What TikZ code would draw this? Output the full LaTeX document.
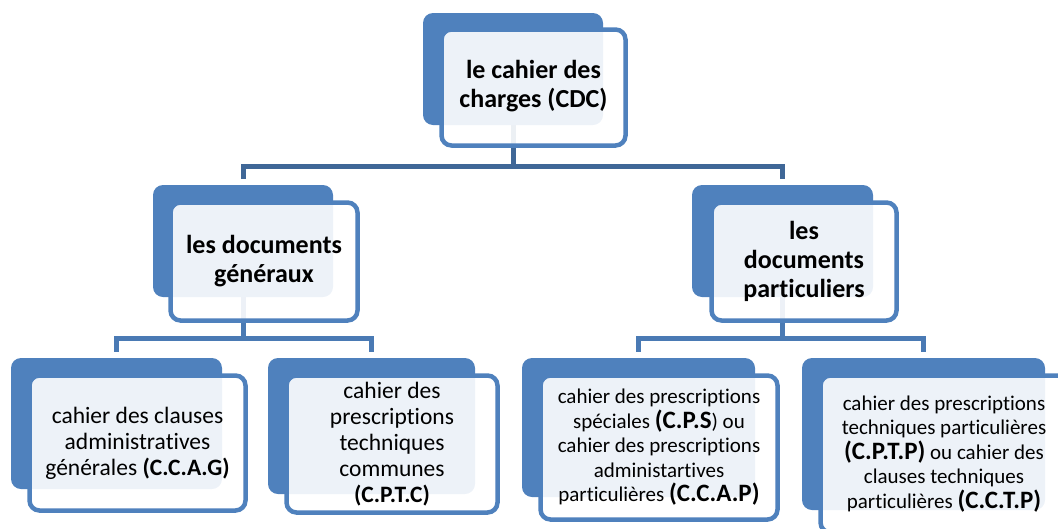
\documentclass[tikz,border=0pt]{standalone}
\usepackage{fontspec}
\setmainfont{Carlito}[Ligatures=NoCommon]
\definecolor{acc}{HTML}{4F81BD}
\definecolor{lnk}{HTML}{4A7AB4}
\definecolor{lnkd}{HTML}{3F6797}
\pgfdeclarelayer{bg}
\pgfsetlayers{bg,main}
\begin{document}
\begin{tikzpicture}[x=1pt,y=-1pt,
 backbox/.style={rounded corners=10pt, fill=acc, draw=none, inner sep=0pt},
 frontbox/.style={rounded corners=10pt, fill=white, fill opacity=0.9, text opacity=1, draw=acc, draw opacity=1, line width=4.5pt, inner sep=0pt, align=center},
 conn/.style={draw=lnk, line width=5pt, shorten >=6pt},
 titletxt/.style={font=\fontsize{26}{29}\selectfont\bfseries},
 bigtxt/.style={font=\fontsize{23.5}{26}\selectfont},
 smalltxt/.style={font=\fontsize{21}{24.5}\selectfont}
]
\useasboundingbox (0,0) rectangle (1058,528);
\clip (0,0) rectangle (1058,528);
\newcommand{\codeA}[1]{{\fontsize{23.5}{24.5}\selectfont\bfseries #1}}
\newcommand{\codeB}[1]{{\fontsize{25}{24.5}\selectfont\bfseries #1}}
% back boxes
\node[backbox, minimum width=180pt, minimum height=112pt] (topb) at (513,69) {};
\node[backbox, minimum width=180pt, minimum height=112pt] (genb) at (243,241) {};
\node[backbox, minimum width=181pt, minimum height=112pt] (partb) at (782.5,241) {};
\node[backbox, minimum width=211pt, minimum height=131pt] (ccagb) at (116.5,423.5) {};
\node[backbox, minimum width=207pt, minimum height=136pt] (cptcb) at (371.5,426) {};
\node[backbox, minimum width=233pt, minimum height=139pt] (cpsb) at (638.5,427.5) {};
\node[backbox, minimum width=243pt, minimum height=152pt] (cptpb) at (923.5,434) {};
% front boxes
\node[frontbox, titletxt, minimum width=184pt, minimum height=116pt] (top) at (533.5,87.5) {\raisebox{-3pt}{\begin{tabular}{@{}c@{}}le cahier des\\charges (CDC)\end{tabular}}};
\node[frontbox, titletxt, minimum width=187pt, minimum height=118pt] (gen) at (264,261.5) {les documents\\généraux};
\node[frontbox, titletxt, minimum width=185pt, minimum height=118pt] (part) at (804,261.5) {les\\documents\\particuliers};
\node[frontbox, bigtxt, minimum width=216pt, minimum height=135pt] (ccag) at (137.5,443) {cahier des clauses\\administratives\\générales \codeA{(C.C.A.G)}};
\node[frontbox, bigtxt, minimum width=211pt, minimum height=137pt] (cptc) at (392,444) {cahier des\\prescriptions\\techniques\\communes\\\codeA{(C.P.T.C)}};
\node[frontbox, smalltxt, minimum width=237pt, minimum height=144pt] (cps) at (659,447.5) {cahier des prescriptions\\spéciales \codeB{(C.P.S}) ou\\cahier des prescriptions\\administartives\\particulières \codeB{(C.C.A.P)}};
\node[frontbox, smalltxt, minimum width=247pt, minimum height=157pt] (cptp) at (944,454) {cahier des prescriptions\\techniques particulières\\\codeB{(C.P.T.P)} ou cahier des\\clauses techniques\\particulières \codeB{(C.C.T.P)}};
% connectors
\coordinate (bar1) at (0,166);
\coordinate (bar2) at (0,338);
\begin{pgfonlayer}{bg}
\draw[conn, draw=lnkd] (topb.center) -- (topb.center |- bar1) -| (genb.north);
\draw[conn, draw=lnkd] (topb.center) -- (topb.center |- bar1) -| (partb.north);
\draw[conn] (genb.center) -- (genb.center |- bar2) -| (ccagb.north);
\draw[conn] (genb.center) -- (genb.center |- bar2) -| (cptcb.north);
\draw[conn] (partb.center) -- (partb.center |- bar2) -| (cpsb.north);
\draw[conn] (partb.center) -- (partb.center |- bar2) -| (cptpb.north);
\end{pgfonlayer}
\end{tikzpicture}
\end{document}
